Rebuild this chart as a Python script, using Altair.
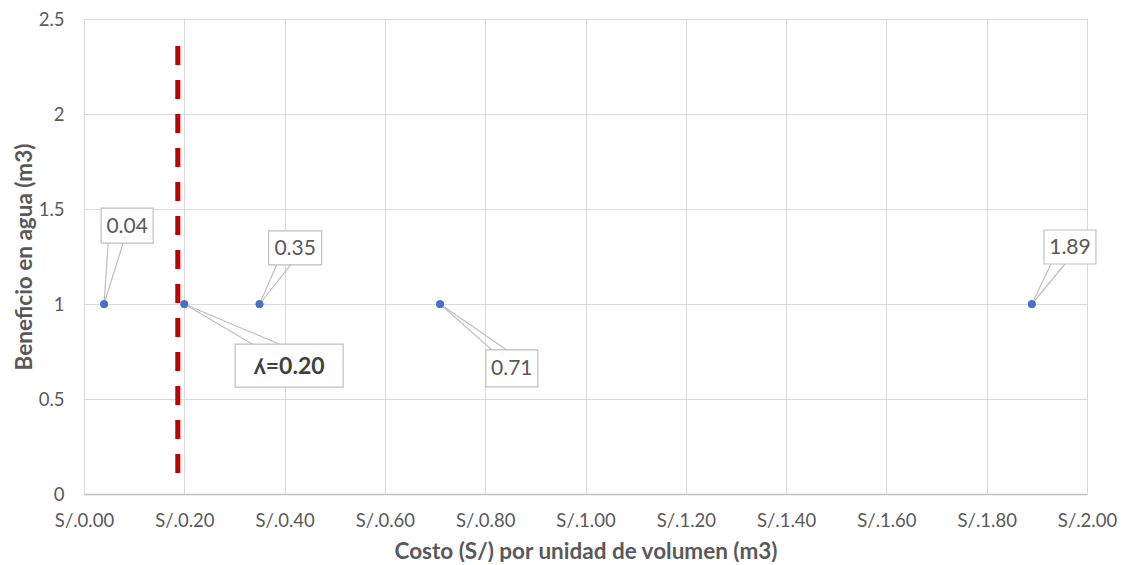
import altair as alt
import pandas as pd

# ---- data ----
costs = [0.04, 0.20, 0.35, 0.71, 1.89]
benefit = [1, 1, 1, 1, 1]
labels = ["0.04", "ʎ=0.20", "0.35", "0.71", "1.89"]
bold = [False, True, False, False, False]

# label box centres (data units)
lab_x = [0.086, 0.409, 0.421, 0.853, 1.966]
lab_y = [1.413, 0.676, 1.295, 0.661, 1.300]
# label box sizes (px) and callout base offsets (px from box centre)
box_w = [52, 108, 53, 52, 52]
box_h = [35, 43, 34, 37, 34]
base_a = [-19, -37, -18.5, -20, -19]
base_b = [-4, -10, -4.5, -5, -5]

# threshold line
lam_x = [0.187]
lam_y1 = [0.11]
lam_y2 = [2.38]

W, H = 1003, 475
XMAX, YMAX = 2.0, 2.5
sx = XMAX / W
sy = YMAX / H

rows = []
for i in range(len(costs)):
    cx, cy = lab_x[i], lab_y[i]
    hw, hh = box_w[i] / 2 * sx, box_h[i] / 2 * sy
    above = cy > benefit[i]
    edge_y = cy - hh if above else cy + hh
    rows.append(dict(
        cost=costs[i], ben=benefit[i], label=labels[i], bold=bold[i],
        lx=cx, ly=cy, bx1=cx - hw, bx2=cx + hw, by1=cy - hh, by2=cy + hh,
        ax=cx + base_a[i] * sx, bxx=cx + base_b[i] * sx, ey=edge_y,
    ))
df = pd.DataFrame(rows)
lam = pd.DataFrame({"x": lam_x, "y1": lam_y1, "y2": lam_y2})

FONT = "Lato"
GREY = "#595959"

xs = alt.Scale(domain=[0, XMAX], nice=False)
ys = alt.Scale(domain=[0, YMAX], nice=False)

base = alt.Chart(df)

pts = base.mark_circle(size=60, color="#4472C4", opacity=1).encode(
    x=alt.X("cost:Q", scale=xs,
            axis=alt.Axis(values=[0, 0.2, 0.4, 0.6, 0.8, 1.0, 1.2, 1.4, 1.6, 1.8, 2.0],
                          labelExpr="'S/.' + format(datum.value, '.2f')",
                          title="Costo (S/) por unidad de volumen (m3)",
                          grid=True, gridColor="#d9d9d9", ticks=False,
                          domain=True, domainColor="#bfbfbf", domainWidth=1.5,
                          labelFlush=False, labelOverlap=False, labelBound=False,
                          labelFont=FONT, labelFontSize=18.5, labelColor=GREY,
                          labelPadding=17,
                          titleFont=FONT, titleFontSize=22.5, titleFontWeight="bold",
                          titleColor=GREY, titleY=57, titleBaseline="middle")),
    y=alt.Y("ben:Q", scale=ys,
            axis=alt.Axis(values=[0, 0.5, 1, 1.5, 2, 2.5],
                          labelExpr="datum.value + ''",
                          title="Beneficio en agua (m3)",
                          grid=True, gridColor="#d9d9d9", ticks=False, domain=False,
                          labelFlush=False, labelOverlap=False, labelBound=False,
                          labelFont=FONT, labelFontSize=18.5, labelColor=GREY,
                          labelPadding=20,
                          titleFont=FONT, titleFontSize=22.5, titleFontWeight="bold",
                          titleColor=GREY, titleX=-60, titleY=H / 2,
                          titleBaseline="middle", titleAlign="center")),
)

lamline = alt.Chart(lam).mark_rule(color="#C00000", strokeWidth=5,
                                    strokeDash=[19, 15]).encode(
    x=alt.X("x:Q", scale=xs), y=alt.Y("y1:Q", scale=ys), y2="y2:Q")

call1 = base.mark_rule(color="#bfbfbf", strokeWidth=1.2).encode(
    x=alt.X("cost:Q", scale=xs), y=alt.Y("ben:Q", scale=ys), x2="ax:Q", y2="ey:Q")
call2 = base.mark_rule(color="#bfbfbf", strokeWidth=1.2).encode(
    x=alt.X("cost:Q", scale=xs), y=alt.Y("ben:Q", scale=ys), x2="bxx:Q", y2="ey:Q")

boxes = base.mark_rect(fill="white", stroke="#bfbfbf", strokeWidth=1.2).encode(
    x=alt.X("bx1:Q", scale=xs), x2="bx2:Q",
    y=alt.Y("by1:Q", scale=ys), y2="by2:Q")

txt = base.transform_filter("!datum.bold").mark_text(
    font=FONT, fontSize=21, color=GREY, baseline="middle", align="center", dy=1).encode(
    x=alt.X("lx:Q", scale=xs), y=alt.Y("ly:Q", scale=ys), text="label:N")
txtb = base.transform_filter("datum.bold").mark_text(
    font=FONT, fontSize=23, fontWeight="bold", color="#404040",
    baseline="middle", align="center", dy=1).encode(
    x=alt.X("lx:Q", scale=xs), y=alt.Y("ly:Q", scale=ys), text="label:N")

chart = alt.layer(pts, lamline, call1, call2, boxes, txt, txtb, pts).properties(
    width=W, height=H,
    autosize=alt.AutoSizeParams(type="none"),
    padding={"left": 76, "top": 11, "right": 30, "bottom": 68},
).configure_view(stroke=None).configure(background="white")

chart.save("out.html", embed_options={"renderer": "svg", "actions": False})
